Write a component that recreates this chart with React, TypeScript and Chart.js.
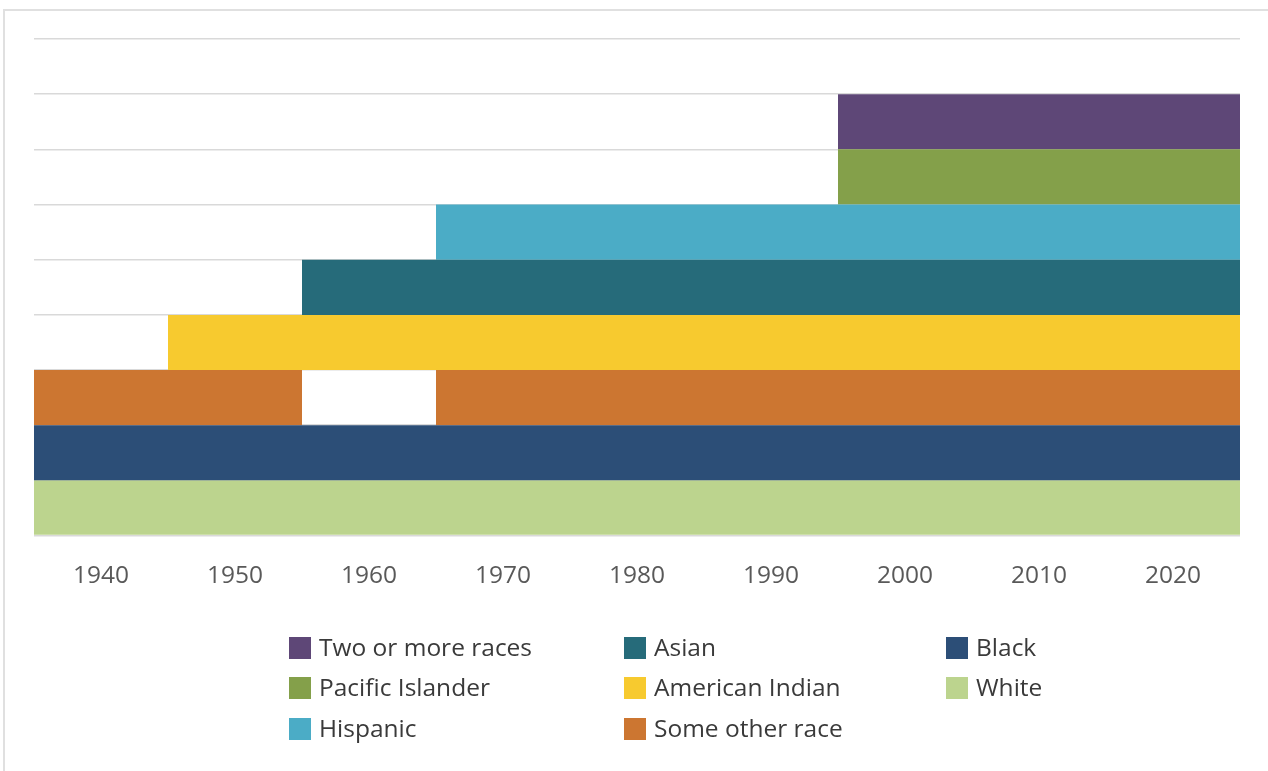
import React, { useEffect, useRef } from "react";
import { Chart, registerables } from "chart.js";

Chart.register(...registerables);

const years = ["1940", "1950", "1960", "1970", "1980", "1990", "2000", "2010", "2020"];

// presence of each category in each census (1 = present, 0 = absent)
const white = [1, 1, 1, 1, 1, 1, 1, 1, 1];
const black = [1, 1, 1, 1, 1, 1, 1, 1, 1];
const someOtherRace = [1, 1, 0, 1, 1, 1, 1, 1, 1];
const americanIndian = [0, 1, 1, 1, 1, 1, 1, 1, 1];
const asian = [0, 0, 1, 1, 1, 1, 1, 1, 1];
const hispanic = [0, 0, 0, 1, 1, 1, 1, 1, 1];
const pacificIslander = [0, 0, 0, 0, 0, 0, 1, 1, 1];
const twoOrMoreRaces = [0, 0, 0, 0, 0, 0, 1, 1, 1];

const seriesNames = [
  "White",
  "Black",
  "Some other race",
  "American Indian",
  "Asian",
  "Hispanic",
  "Pacific Islander",
  "Two or more races",
];
const seriesValues = [white, black, someOtherRace, americanIndian, asian, hispanic, pacificIslander, twoOrMoreRaces];
const seriesColors = ["#bcd48e", "#2c4e77", "#cc7631", "#f7ca2f", "#266b7a", "#4bacc6", "#84a04a", "#5e4777"];

// legend layout order (column-major, 3 columns)
const legendColumns = [
  ["Two or more races", "Pacific Islander", "Hispanic"],
  ["Asian", "American Indian", "Some other race"],
  ["Black", "White"],
];

const FONT = "'Open Sans', 'Noto Sans', sans-serif";

export default function App() {
  const ref = useRef<HTMLCanvasElement | null>(null);

  useEffect(() => {
    if (!ref.current) return;
    const datasets = seriesNames.map((name, level) => ({
      label: name,
      data: seriesValues[level].map((v) => (v ? [level, level + v] : null)),
      backgroundColor: seriesColors[level],
      borderWidth: 0,
      inflateAmount: 0,
      grouped: false,
      categoryPercentage: 1,
      barPercentage: 1,
    }));
    const chart = new Chart(ref.current, {
      type: "bar",
      data: { labels: years, datasets: datasets as any },
      options: {
        animation: false,
        responsive: false,
        maintainAspectRatio: false,
        layout: { padding: { left: 34, right: 28, top: 39, bottom: 14 } },
        plugins: { legend: { display: false }, tooltip: { enabled: false } },
        scales: {
          x: {
            grid: { display: false, drawTicks: false },
            border: { display: false },
            ticks: { color: "#595959", font: { family: FONT, size: 24.5 }, padding: 26 },
          },
          y: {
            min: 0,
            max: 9,
            ticks: { display: false, stepSize: 1 },
            grid: { color: "#d9d9d9", lineWidth: 1.5, drawTicks: false },
            border: { display: false },
          },
        },
      },
    });
    return () => chart.destroy();
  }, []);

  const colorOf = (name: string) => seriesColors[seriesNames.indexOf(name)];
  const colX = [289, 624, 946];
  const rowY = [637, 677, 718];

  return (
    <div style={{ position: "fixed", left: 0, top: 0, width: 1268, height: 771, overflow: "hidden", background: "#fff" }}>
      <div
        style={{
          position: "absolute",
          left: 3,
          top: 9,
          width: 1400,
          height: 900,
          border: "2px solid #e0e0e0",
        }}
      />
      <canvas ref={ref} width={1268} height={631} style={{ position: "absolute", left: 0, top: 0, width: 1268, height: 631 }} />
      {legendColumns.map((col, ci) =>
        col.map((name, ri) => (
          <div
            key={name}
            style={{
              position: "absolute",
              left: colX[ci],
              top: rowY[ri],
              height: 22,
              display: "flex",
              alignItems: "center",
              whiteSpace: "nowrap",
              fontFamily: FONT,
              fontSize: 24.5,
              color: "#3a3a3a",
            }}
          >
            <span style={{ display: "inline-block", width: 22, height: 22, background: colorOf(name), marginRight: 8, flexShrink: 0 }} />
            <span style={{ position: "relative", top: -2 }}>{name}</span>
          </div>
        ))
      )}
    </div>
  );
}
